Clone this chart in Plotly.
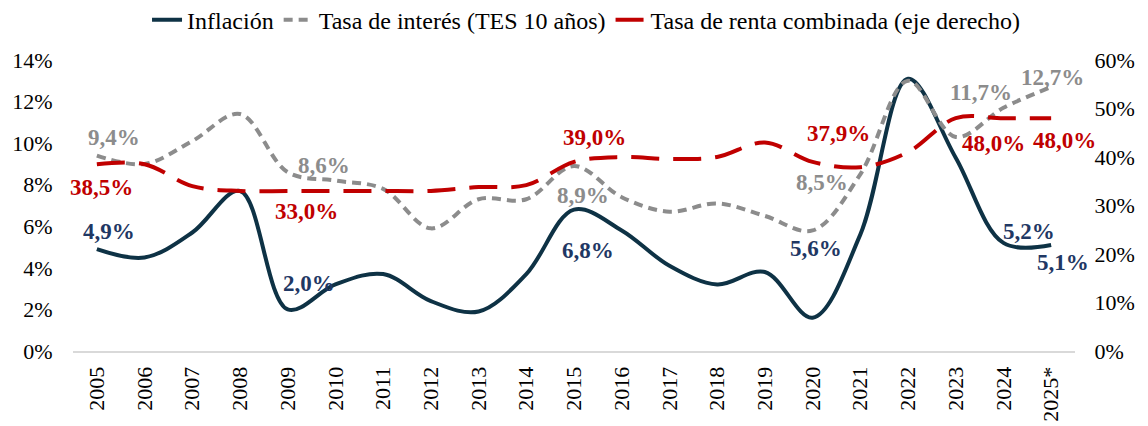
import plotly.graph_objects as go

years = ["2005","2006","2007","2008","2009","2010","2011","2012","2013","2014",
         "2015","2016","2017","2018","2019","2020","2021","2022","2023","2024","2025*"]
inflacion = [4.9, 4.5, 5.7, 7.7, 2.0, 3.2, 3.7, 2.4, 1.9, 3.7,
             6.8, 5.8, 4.1, 3.2, 3.8, 1.6, 5.6, 13.1, 9.3, 5.2, 5.1]
tes = [9.4, 9.0, 10.1, 11.4, 8.6, 8.2, 7.8, 5.9, 7.3, 7.3,
       8.9, 7.4, 6.7, 7.1, 6.5, 5.8, 8.5, 13.0, 10.3, 11.7, 12.7]
renta = [38.5, 38.5, 34.0, 33.0, 33.0, 33.0, 33.0, 33.0, 33.8, 34.2,
         39.0, 40.0, 39.6, 40.0, 43.0, 39.0, 37.9, 41.0, 48.0, 48.0, 48.0]

# labelled points: (year, xshift, yshift)
inf_labels = [("2005", 12, 18), ("2009", 21, 26), ("2015", 14, -41),
              ("2021", -44, -14), ("2024", 26, 11), ("2025*", 12, -18)]
tes_labels = [("2005", 17, 18), ("2009", 36, 7), ("2015", 9, -29),
              ("2021", -38, -8), ("2024", -22, 15), ("2025*", 1, 10)]
renta_labels = [("2005", 5, -23), ("2009", 19, -21), ("2015", 20, 24),
                ("2021", -22, 34), ("2024", -10, -25), ("2025*", 13, -22)]

C_INF = "#0e3245"
C_INF_LBL = "#1f3864"
C_TES = "#8c8c8c"
C_REN = "#c00000"
FONT = "Liberation Serif"

fig = go.Figure()
fig.add_trace(go.Scatter(x=years, y=inflacion, name="Inflación", mode="lines",
                         line=dict(color=C_INF, width=4, shape="spline", smoothing=1.0)))
fig.add_trace(go.Scatter(x=years, y=tes, name="Tasa de interés (TES 10 años)", mode="lines",
                         line=dict(color=C_TES, width=4, dash="9px,6px", shape="spline", smoothing=1.0)))
fig.add_trace(go.Scatter(x=years, y=renta, name="Tasa de renta combinada (eje derecho)", mode="lines",
                         yaxis="y2",
                         line=dict(color=C_REN, width=4, dash="28px,14px", shape="spline", smoothing=1.0)))

def fmt(v):
    return f"{v:.1f}".replace(".", ",") + "%"

ann = []
for lbls, vals, col, yref in [(inf_labels, inflacion, C_INF_LBL, "y"),
                              (tes_labels, tes, C_TES, "y"),
                              (renta_labels, renta, C_REN, "y2")]:
    for yr, dx, dy in lbls:
        i = years.index(yr)
        v = vals[i]
        ann.append(dict(x=i, y=v, xref="x", yref=yref, text=f"<b>{fmt(v)}</b>",
                        showarrow=False, xshift=dx, yshift=dy,
                        font=dict(family=FONT, size=23, color=col)))

fig.update_layout(
    width=1140, height=418,
    margin=dict(l=65, r=73, t=52, b=75, autoexpand=False),
    paper_bgcolor="white", plot_bgcolor="white",
    font=dict(family=FONT, size=22, color="black"),
    showlegend=True,
    legend=dict(orientation="h", x=0.512, xanchor="center", y=1.137, yanchor="middle",
                font=dict(family=FONT, size=24, color="black"),
                tracegroupgap=0, bgcolor="rgba(0,0,0,0)"),
    xaxis=dict(type="category", range=[-0.5, 20.5], showgrid=False, zeroline=False,
               showline=True, linecolor="#d9d9d9", linewidth=2,
               tickangle=-90, tickfont=dict(family=FONT, size=22, color="black"),
               ticks="outside", ticklen=5, tickcolor="rgba(0,0,0,0)"),
    yaxis=dict(range=[0, 14], tickvals=[0, 2, 4, 6, 8, 10, 12, 14],
               ticktext=[f"{v}%" for v in [0, 2, 4, 6, 8, 10, 12, 14]],
               showgrid=False, zeroline=False, showline=False,
               ticks="outside", ticklen=15, tickcolor="rgba(0,0,0,0)",
               tickfont=dict(family=FONT, size=22, color="black")),
    yaxis2=dict(range=[0, 60], tickvals=[0, 10, 20, 30, 40, 50, 60],
                ticktext=[f"{v}%" for v in [0, 10, 20, 30, 40, 50, 60]],
                overlaying="y", side="right", showgrid=False, zeroline=False, showline=False,
                ticks="outside", ticklen=14, tickcolor="rgba(0,0,0,0)",
                tickfont=dict(family=FONT, size=22, color="black")),
    annotations=ann,
)

fig.write_html("out.html")
